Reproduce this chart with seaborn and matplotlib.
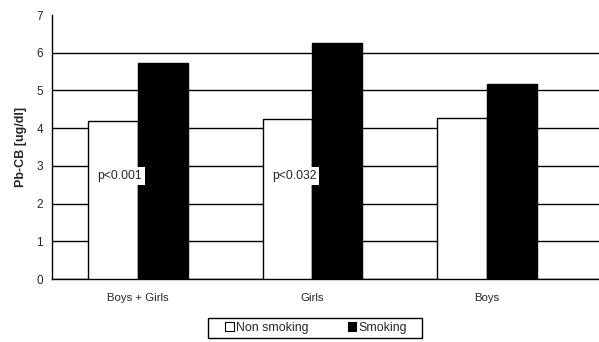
import matplotlib
matplotlib.use("Agg")
import matplotlib.pyplot as plt
import seaborn as sns
import pandas as pd
from matplotlib.patches import Patch, Rectangle

groups = ["Boys + Girls", "Girls", "Boys"]
non_smoking = [4.2, 4.25, 4.28]
smoking = [5.73, 6.25, 5.18]
series = ["Non smoking", "Smoking"]
p_labels = ["p<0.001", "p<0.032"]
y_ticks = [0, 1, 2, 3, 4, 5, 6, 7]

df = pd.DataFrame({
    "group": groups * 2,
    "value": non_smoking + smoking,
    "series": [series[0]] * len(groups) + [series[1]] * len(groups),
})

sns.set_style("white")
plt.rcParams["font.family"] = ["Liberation Sans", "DejaVu Sans"]

fig = plt.figure(figsize=(5.99, 3.42), dpi=100)
ax = fig.add_axes([0.0868, 0.184, 0.9132, 0.772])

sns.barplot(data=df, x="group", y="value", hue="series", order=groups,
            hue_order=series, palette=["white", "black"], width=0.573,
            edgecolor="black", linewidth=1.0, saturation=1, legend=False,
            errorbar=None, ax=ax, zorder=3)

ax.set_xlim(-0.493, 2.642)
ax.set_ylim(0, 7)
ax.set_yticks(y_ticks)
ax.set_yticklabels([str(t) for t in y_ticks], fontsize=8.5)
ax.yaxis.grid(True, color="black", linewidth=1.0, zorder=0)
ax.set_axisbelow(True)
ax.get_ygridlines()[-1].set_visible(False)

for side in ["top", "right"]:
    ax.spines[side].set_visible(False)
for side in ["left", "bottom"]:
    ax.spines[side].set_color("black")
    ax.spines[side].set_linewidth(1.0)

ax.tick_params(axis="y", direction="inout", length=5, width=1, color="black", pad=4)
ax.tick_params(axis="x", which="major", length=0, pad=10, labelsize=8.2)
ax.set_xticks([0.5, 1.5], minor=True)
ax.tick_params(axis="x", which="minor", direction="inout", length=5, width=1, color="black")

ax.set_xlabel("")
ax.set_ylabel("Pb-CB [ug/dl]", fontsize=9, fontweight="bold", labelpad=7)

for i, lab in enumerate(p_labels):
    ax.text(i - 0.105, 2.73, lab, fontsize=8.7, ha="center", va="center", zorder=5,
            bbox=dict(boxstyle="square,pad=0.25", facecolor="white", edgecolor="none"))

# legend entries without frame, boxed by a wider rectangle underneath
handles = [Patch(facecolor="white", edgecolor="black", linewidth=0.8),
           Patch(facecolor="black", edgecolor="black", linewidth=0.8)]
leg = fig.legend(handles, series, loc="center", bbox_to_anchor=(0.528, 0.041),
                 ncol=2, fontsize=8.9, frameon=False,
                 handlelength=0.7, handleheight=0.7,
                 handletextpad=0.2, columnspacing=3.15, borderpad=0.2,
                 borderaxespad=0)
fig.patches.append(Rectangle((208 / 599, 1 - 338 / 342), 214 / 599, 20 / 342,
                             transform=fig.transFigure, facecolor="none",
                             edgecolor="black", linewidth=1.0))

fig.savefig("out.png", dpi=100)
